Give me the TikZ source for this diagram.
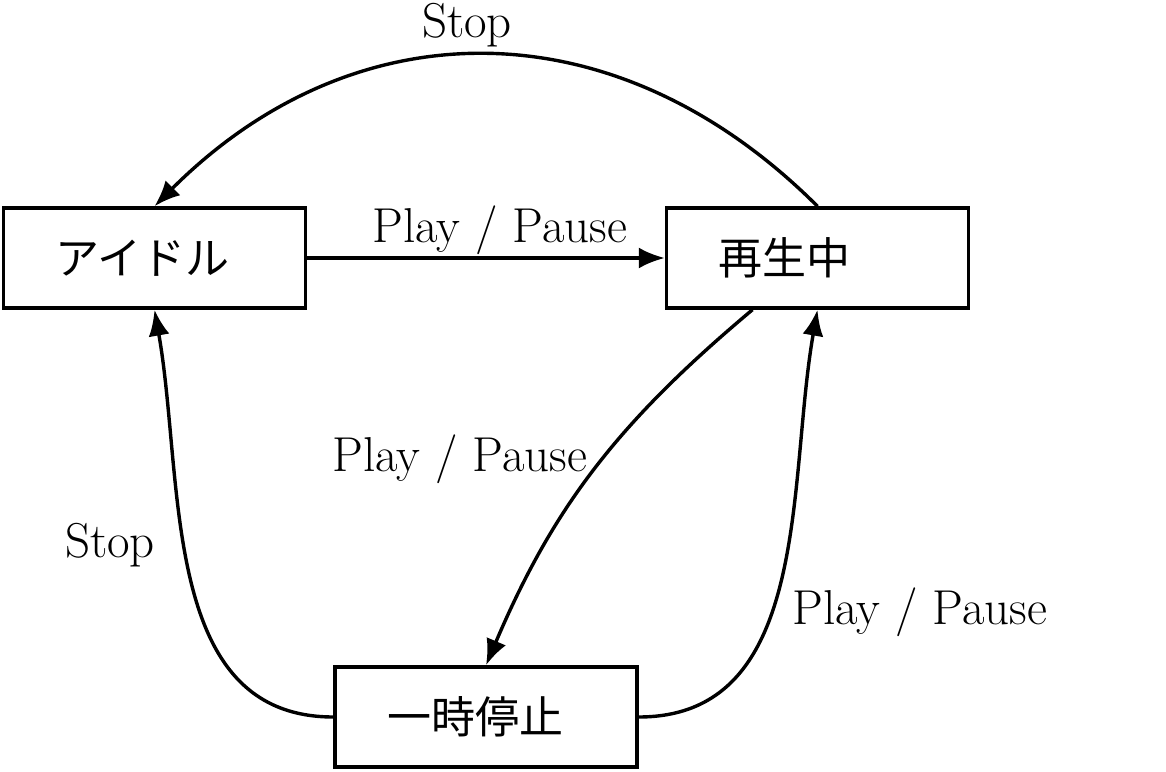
\documentclass[tikz,border=0pt]{standalone}
\usepackage{fontspec}
\newfontfamily\cjk{Noto Sans CJK JP}
\usetikzlibrary{arrows.meta}
\begin{document}
\begin{tikzpicture}[x=0.5pt,y=0.5pt,
  every node/.style={font=\fontsize{24.5}{28}\selectfont},
  state/.style={draw, line width=1.7pt, minimum height=50pt, text width=99pt, inner xsep=26pt, align=left, font=\fontsize{22}{26}\selectfont\cjk},
  arr/.style={line width=1.7pt, -{Latex[length=13pt,width=10.5pt]}},
  lbl/.style={inner sep=0pt}]
\useasboundingbox (0,0) rectangle (1166,771);
\node[state] (i) at (154.5,513) {アイドル};
\node[state] (s) at (817.5,513) {再生中};
\node[state] (g) at (486,54) {一時停止};
\draw[arr] (s.north) to[out=135,in=45,looseness=1.1] (i.north);
\draw[arr] (i) -- (s);
\draw[arr] ([xshift=-32.5pt]s.south) to[out=-140,in=67] (g.north);
\draw[arr] (g.east) to[out=0,in=-100] (s.south);
\draw[arr] (g.west) to[out=180,in=-80] (i.south);
\node[lbl] (l1) at (467,746) {Stop};
\node[lbl] (l2) at (500,541) {Play / Pause};
\node[lbl] (l3) at (460,312) {Play / Pause};
\node[lbl] (l4) at (920,159) {Play / Pause};
\node[lbl] (l5) at (110,226) {Stop};
\end{tikzpicture}
\end{document}
